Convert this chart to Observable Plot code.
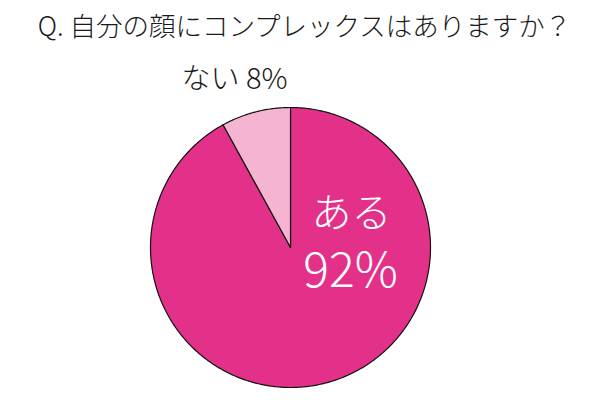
<!DOCTYPE html>
<html><head><meta charset="utf-8">
<script src="https://cdn.jsdelivr.net/npm/d3@7"></script>
<script src="https://cdn.jsdelivr.net/npm/@observablehq/plot@0.6"></script>
<style>
html,body{margin:0;padding:0;background:#fff;}
svg{display:block;}
</style>
</head><body>
<div id="chart"></div>
<script>
const title = "Q. 自分の顔にコンプレックスはありますか？";
const categories = ["ある", "ない"];
const values = [92, 8];
const colors = ["#e3318a", "#f5b4d1"];

const W = 610, H = 400, R = 140, cx = 290, cy = 247;
const pie = d3.pie().sort(null).value(d => d.value)(categories.map((c, i) => ({cat: c, value: values[i], color: colors[i]})));

// build slice outlines from pie angles
const pts = [];
pie.forEach((s, k) => {
  pts.push({k, x: 0, y: 0, color: s.data.color});
  const n = Math.max(4, Math.ceil((s.endAngle - s.startAngle) / 0.01));
  for (let j = 0; j <= n; j++) {
    const a = s.startAngle + (s.endAngle - s.startAngle) * j / n;
    pts.push({k, x: Math.sin(a), y: Math.cos(a), color: s.data.color});
  }
  pts.push({k, x: 0, y: 0, color: s.data.color});
});

const font = "'Noto Sans CJK JP', 'Noto Sans', sans-serif";
const chart = Plot.plot({
  width: W, height: H,
  margin: 0,
  style: {fontFamily: font, background: "#fff"},
  x: {domain: [-cx / R, (W - cx) / R], axis: null},
  y: {domain: [-(H - cy) / R, cy / R], axis: null},
  marks: [
    ...pie.map((s, k) => Plot.line(pts.filter(p => p.k === k), {
      x: "x", y: "y", fill: s.data.color, stroke: "#111", strokeWidth: 1.2, curve: "linear"
    })),
    Plot.text([title], {frameAnchor: "top", lineAnchor: "middle", dy: 27, dx: -1, text: d => d, fontSize: 26.5, fontWeight: 300, fill: "#1a1a1a"}),
    Plot.text([`${categories[1]} ${values[1]}%`], {x: 0, y: 0, dx: -56, dy: -168, text: d => d, fontSize: 29, fontWeight: 300, fill: "#1a1a1a"}),
    Plot.text([categories[0]], {x: 0, y: 0, dx: 61, dy: -33, text: d => d, fontSize: 40, fontWeight: 300, fill: "#fff"}),
    Plot.text([`${values[0]}%`], {x: 0, y: 0, dx: 60, dy: 24, text: d => d, fontSize: 48, fontWeight: 300, fill: "#fff"})
  ]
});
document.getElementById("chart").append(chart);
</script>
</body></html>
